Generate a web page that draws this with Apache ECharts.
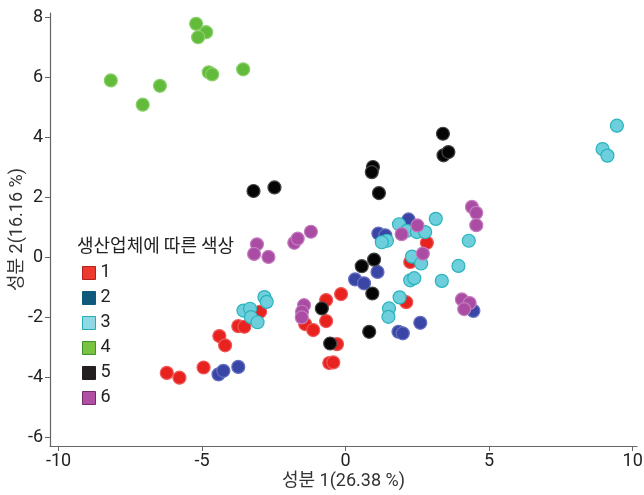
<!DOCTYPE html>
<html><head><meta charset="utf-8">
<script src="https://cdn.jsdelivr.net/npm/echarts@6/dist/echarts.min.js"></script>
<style>html,body{margin:0;padding:0;background:#fff}#c{width:644px;height:495px}</style>
</head><body><div id="c"></div>
<script>
const seriesNames = ['1','2','3','4','5','6'];
const xTicks = [-10,-5,0,5,10];
const yTicks = [-6,-4,-2,0,2,4,6,8];
const s1 = [[-6.23,-3.86],[-5.79,-4.02],[-4.95,-3.68],[-4.40,-2.63],[-4.20,-2.94],[-3.74,-2.30],[-3.53,-2.32],[-2.98,-1.82],[-0.16,-1.23],[-0.68,-1.43],[-0.68,-2.13],[-1.41,-2.23],[-1.13,-2.43],[-0.30,-2.90],[-0.57,-3.53],[-0.43,-3.51],[2.11,-1.50],[2.83,0.48],[2.25,-0.16]];
const s2 = [[-4.43,-3.91],[-4.26,-3.79],[-3.74,-3.66],[2.19,1.26],[1.14,0.79],[1.38,0.73],[1.11,-0.49],[0.33,-0.74],[0.64,-0.87],[2.60,-2.19],[1.84,-2.49],[1.99,-2.54],[4.22,-1.66],[4.45,-1.79]];
const s3 = [[9.45,4.39],[8.95,3.61],[9.12,3.39],[1.86,1.10],[2.13,0.88],[2.48,0.84],[2.77,0.84],[3.14,1.28],[1.44,0.55],[1.26,0.50],[4.29,0.55],[2.31,0.02],[2.63,-0.21],[3.93,-0.29],[2.25,-0.77],[2.39,-0.70],[3.35,-0.79],[1.88,-1.34],[1.51,-1.71],[1.49,-1.99],[-2.83,-1.33],[-2.75,-1.49],[-3.56,-1.78],[-3.33,-1.72],[-3.30,-2.00],[-3.07,-2.17]];
const s4 = [[-5.21,7.79],[-4.86,7.51],[-5.14,7.34],[-8.18,5.90],[-7.07,5.09],[-6.47,5.72],[-4.77,6.17],[-4.65,6.10],[-3.57,6.27]];
const s5 = [[-3.21,2.21],[-2.48,2.33],[3.39,4.12],[3.41,3.40],[3.58,3.51],[0.95,3.01],[0.91,2.84],[1.16,2.14],[0.56,-0.30],[0.99,-0.08],[0.93,-1.21],[0.82,-2.49],[-0.54,-2.88],[-0.83,-1.71]];
const s6 = [[-3.09,0.43],[-3.19,0.11],[-2.69,0.01],[-1.79,0.48],[-1.67,0.62],[-1.21,0.85],[-1.45,-1.60],[-1.52,-1.82],[-1.53,-2.01],[4.40,1.68],[4.55,1.48],[4.55,1.07],[2.50,1.06],[1.95,0.77],[2.69,0.12],[4.05,-1.41],[4.32,-1.53],[4.13,-1.73]];
const allData = [s1,s2,s3,s4,s5,s6];
const pointStyle = [
  {color:'#e8221e', borderColor:'#f0595a'},
  {color:'#3a46a6', borderColor:'#6670c0'},
  {color:'#6dcfdb', borderColor:'#2ab3bd'},
  {color:'#63bb3c', borderColor:'#8ad06a'},
  {color:'#050505', borderColor:'#444'},
  {color:'#aa4ba4', borderColor:'#c37cbd'}
];
const legendStyle = [
  {color:'#ec3a2e', borderColor:'#b51f1f'},
  {color:'#0f5a7c', borderColor:'#0f5a7c'},
  {color:'#8fd8e4', borderColor:'#22aeb3'},
  {color:'#7ac242', borderColor:'#3f8f2a'},
  {color:'#231f20', borderColor:'#231f20'},
  {color:'#b050a2', borderColor:'#742a6e'}
];
const chart = echarts.init(document.getElementById('c'));
const font = 'Roboto, "Noto Sans CJK KR", sans-serif';
chart.setOption({
  animation:false,
  backgroundColor:'#fff',
  title:{text:'생산업체에 따른 색상', left:72, top:231, textStyle:{fontFamily:'"Noto Sans CJK KR", sans-serif', fontSize:18, fontWeight:'normal', color:'#222'}},
  legend:{
    orient:'vertical', left:77, top:259, itemWidth:13, itemHeight:13, itemGap:7,
    icon:'rect',
    textStyle:{fontFamily:font, fontSize:18, color:'#222'},
    data: seriesNames.map((n,i)=>({name:n, itemStyle:{color:legendStyle[i].color, borderColor:legendStyle[i].borderColor, borderWidth:1}}))
  },
  grid:{left:50, right:7, top:13, bottom:49, containLabel:false, outerBoundsMode:'none'},
  xAxis:{
    type:'value', min:-10.3, max:10.15,
    name:'성분 1(26.38 %)', nameLocation:'middle', nameGap:27, nameMoveOverlap:false,
    nameTextStyle:{fontFamily:font, fontSize:18, color:'#333'},
    axisLine:{show:true, onZero:false, lineStyle:{color:'#666', width:1.2}},
    axisTick:{show:true, length:5, lineStyle:{color:'#666'}, customValues:xTicks},
    axisLabel:{fontFamily:font, fontSize:18, color:'#222', margin:7, customValues:xTicks},
    splitLine:{show:false}
  },
  yAxis:{
    type:'value', min:-6.3, max:8.15,
    name:'성분 2(16.16 %)', nameLocation:'middle', nameGap:24, nameRotate:90, nameMoveOverlap:false,
    nameTextStyle:{fontFamily:font, fontSize:18, color:'#333'},
    axisLine:{show:true, onZero:false, lineStyle:{color:'#666', width:1.2}},
    axisTick:{show:true, length:5, lineStyle:{color:'#666'}, customValues:yTicks},
    axisLabel:{fontFamily:font, fontSize:18, color:'#222', margin:7, customValues:yTicks},
    splitLine:{show:false}
  },
  series: seriesNames.map((n,i)=>({
    name:n, type:'scatter', data:allData[i], symbolSize:13,
    itemStyle:{color:pointStyle[i].color, borderColor:pointStyle[i].borderColor, borderWidth:1.2, opacity:1}
  }))
});
</script></body></html>
